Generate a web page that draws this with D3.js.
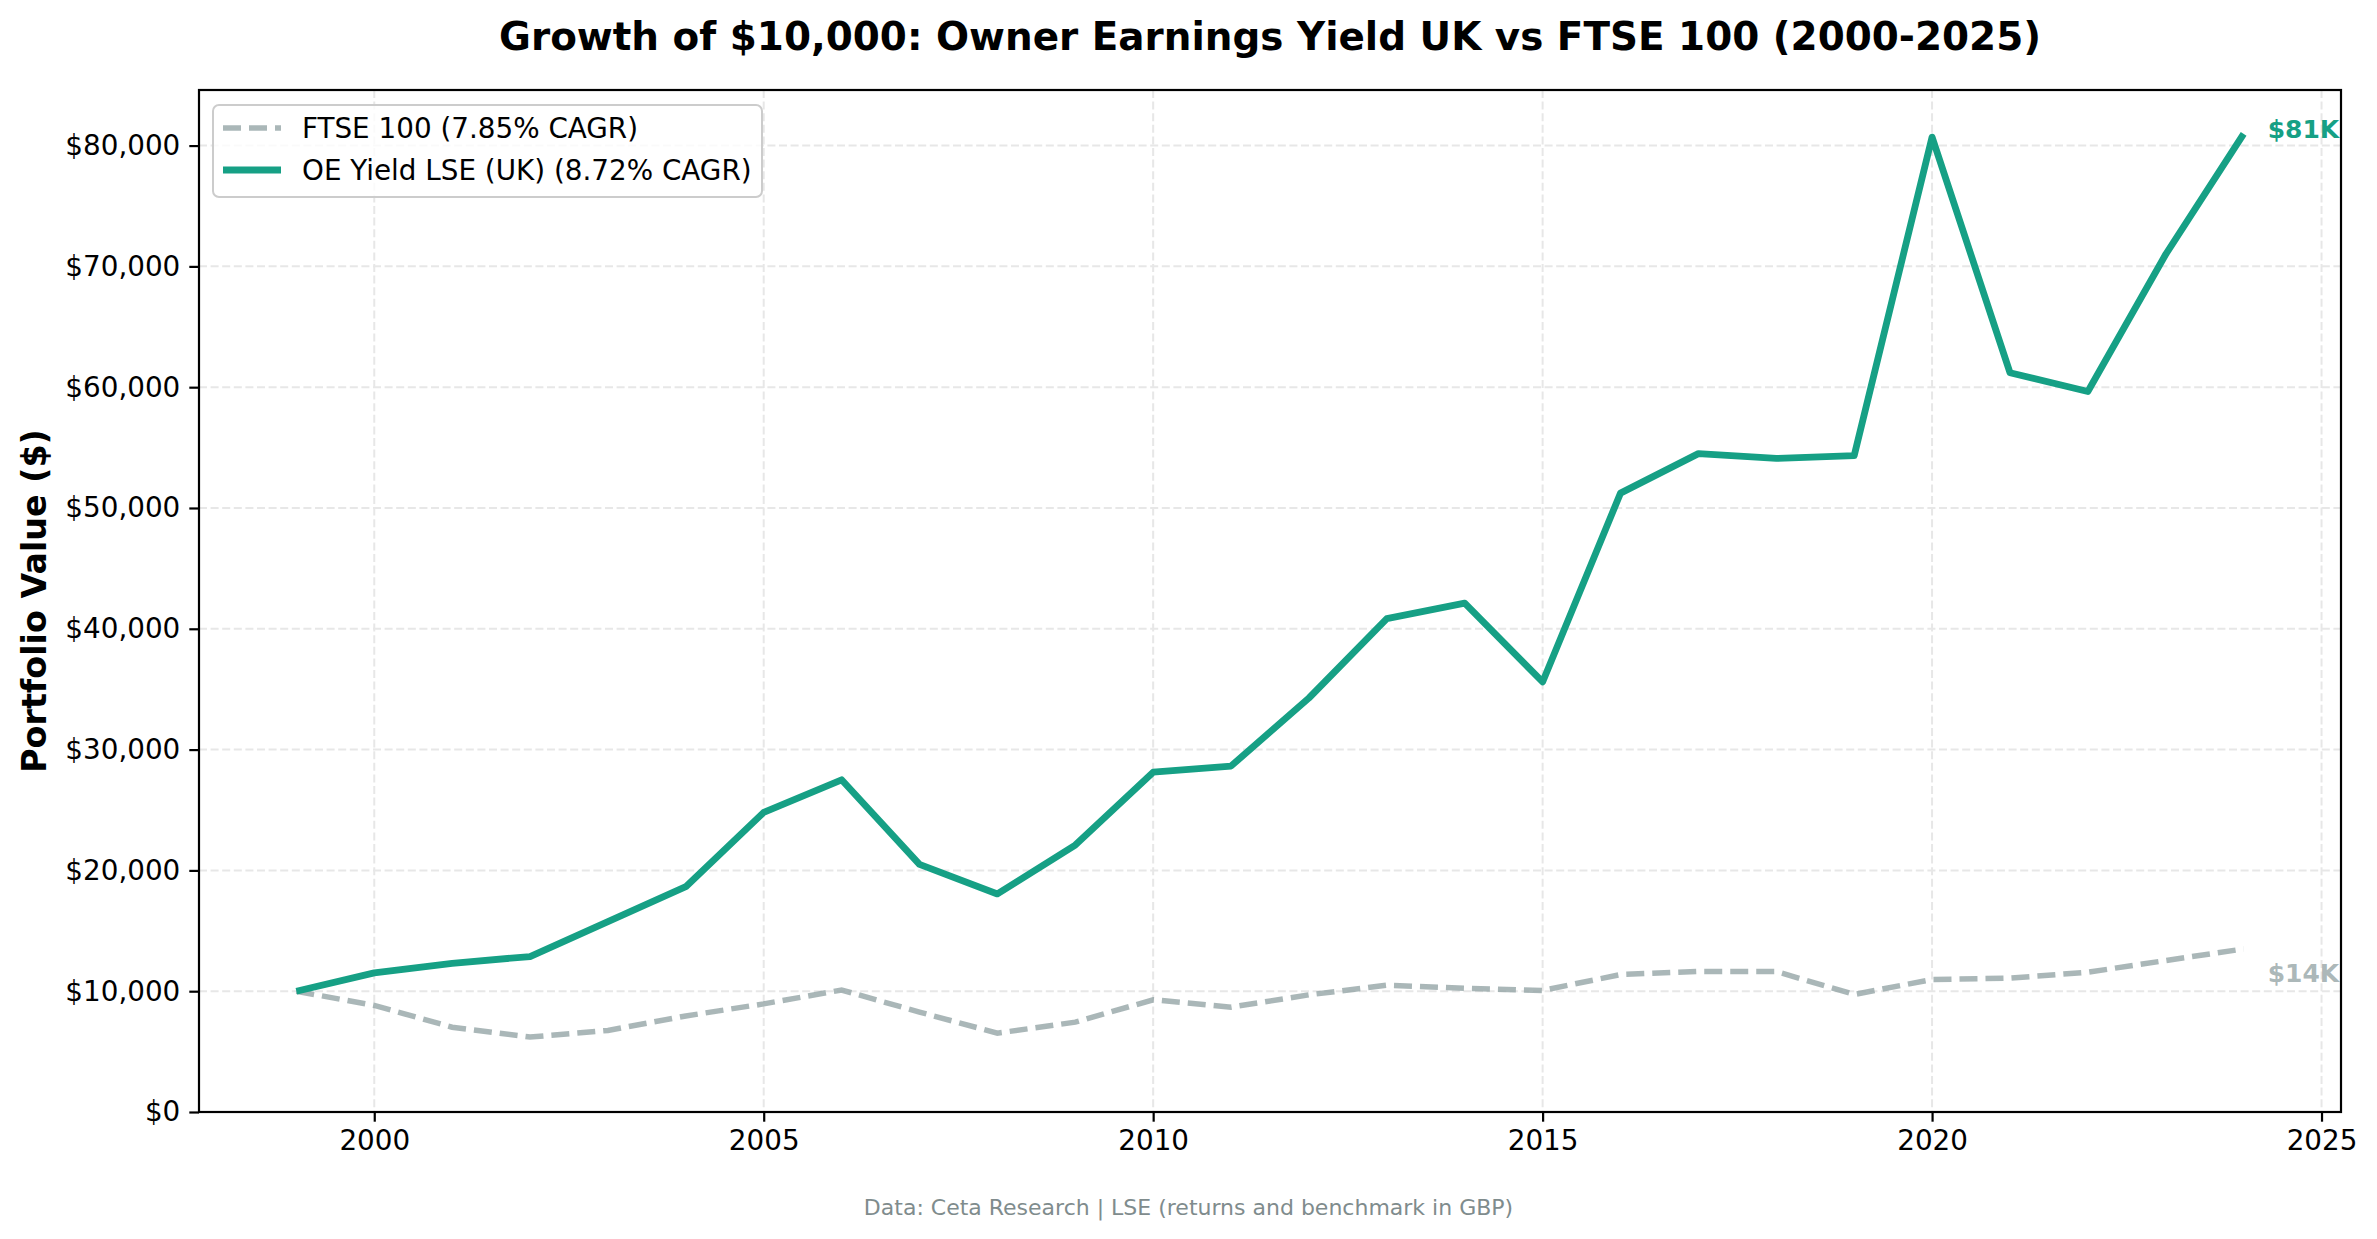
<!DOCTYPE html>
<html>
<head>
<meta charset="utf-8">
<script src="https://cdn.jsdelivr.net/npm/d3@7"></script>
<style>
  html, body { margin: 0; padding: 0; background: #ffffff; }
  svg { display: block; }
  text { font-family: "DejaVu Sans", sans-serif; }
</style>
</head>
<body>
<script>
// ---- data ----
const years = [1999, 2000, 2001, 2002, 2003, 2004, 2005, 2006, 2007, 2008, 2009, 2010, 2011, 2012,
               2013, 2014, 2015, 2016, 2017, 2018, 2019, 2020, 2021, 2022, 2023, 2024];
const oeYield = [10000, 11520, 12310, 12870, 15760, 18650, 24800, 27500, 20500, 18050, 22100, 28130, 28640, 34270,
                 40840, 42120, 35600, 51230, 54500, 54100, 54330, 80700, 61200, 59640, 71000, 80970];
const ftse = [10000, 8820, 7020, 6200, 6750, 7950, 8950, 10100, 8270, 6530, 7440, 9290, 8680, 9700,
              10500, 10250, 10060, 11380, 11630, 11630, 9730, 10970, 11080, 11570, 12540, 13500];
const xTicks = [2000, 2005, 2010, 2015, 2020, 2025];
const yTicks = [0, 10000, 20000, 30000, 40000, 50000, 60000, 70000, 80000];
const seriesNames = ["FTSE 100 (7.85% CAGR)", "OE Yield LSE (UK) (8.72% CAGR)"];
const endLabels = ["$14K", "$81K"];
const titleText = "Growth of $10,000: Owner Earnings Yield UK vs FTSE 100 (2000-2025)";
const yLabelText = "Portfolio Value ($)";
const sourceText = "Data: Ceta Research | LSE (returns and benchmark in GBP)";

// ---- layout ----
const W = 2377, H = 1239;
const L = 199, R = 2341, T = 90, B = 1112;
const teal = "#16a085", gray = "#95a5a6";

const svg = d3.select("body").append("svg").attr("width", W).attr("height", H);
svg.append("rect").attr("width", W).attr("height", H).attr("fill", "#fff");

const x = d3.scaleLinear().domain([1997.75, 2025.25]).range([L, R]);
const y = d3.scaleLinear().domain([0, 84600]).range([B, T]);

// grid
const grid = svg.append("g");
grid.selectAll(".vg").data(xTicks).join("line")
  .attr("x1", d => x(d)).attr("x2", d => x(d)).attr("y1", T).attr("y2", B)
  .attr("stroke", "#e7e7e7").attr("stroke-width", 2).attr("stroke-dasharray", "8,3.6");
grid.selectAll(".hg").data(yTicks).join("line")
  .attr("x1", L).attr("x2", R).attr("y1", d => y(d)).attr("y2", d => y(d))
  .attr("stroke", "#e7e7e7").attr("stroke-width", 2).attr("stroke-dasharray", "8,3.6");

// lines
const line = d3.line().x((d, i) => x(years[i])).y(d => y(d));
svg.append("path").datum(ftse).attr("d", line)
  .attr("fill", "none").attr("stroke", gray).attr("stroke-opacity", 0.8)
  .attr("stroke-width", 5.5).attr("stroke-dasharray", "18,8");
svg.append("path").datum(oeYield).attr("d", line)
  .attr("fill", "none").attr("stroke", teal).attr("stroke-width", 6.8)
  .attr("stroke-linejoin", "round");

// end labels
const lastI = years.length - 1;
svg.append("text").attr("x", x(years[lastI]) + 24).attr("y", y(ftse[lastI]) + 25)
  .attr("dominant-baseline", "central").attr("font-size", 25).attr("font-weight", "bold")
  .attr("fill", gray).attr("fill-opacity", 0.8).text(endLabels[0]);
svg.append("text").attr("x", x(years[lastI]) + 24).attr("y", y(oeYield[lastI]) - 4)
  .attr("dominant-baseline", "central").attr("font-size", 25).attr("font-weight", "bold")
  .attr("fill", teal).text(endLabels[1]);

// axes
const xAxis = svg.append("g").attr("transform", `translate(0,${B})`)
  .call(d3.axisBottom(x).tickValues(xTicks).tickFormat(d3.format("d")).tickSize(9.7).tickPadding(9));
const yAxis = svg.append("g").attr("transform", `translate(${L},0)`)
  .call(d3.axisLeft(y).tickValues(yTicks).tickFormat(d => "$" + d3.format(",")(d)).tickSize(9.7).tickPadding(9));
[xAxis, yAxis].forEach(g => {
  g.select(".domain").remove();
  g.selectAll(".tick line").attr("stroke", "#000").attr("stroke-width", 2.2);
  g.selectAll(".tick text").attr("font-family", "DejaVu Sans").attr("font-size", 27.8).attr("fill", "#000");
});

// frame
svg.append("rect").attr("x", L).attr("y", T).attr("width", R - L).attr("height", B - T)
  .attr("fill", "none").attr("stroke", "#000").attr("stroke-width", 2.2);

// legend
const lg = svg.append("g");
lg.append("rect").attr("x", 213).attr("y", 105).attr("width", 549).attr("height", 92).attr("rx", 6)
  .attr("fill", "#fff").attr("fill-opacity", 0.8).attr("stroke", "#cccccc").attr("stroke-width", 2);
const legRows = [
  {name: seriesNames[0], color: gray, op: 0.8, w: 5.5, dash: "18,8", cy: 128},
  {name: seriesNames[1], color: teal, op: 1, w: 6.8, dash: null, cy: 170}
];
legRows.forEach(r => {
  lg.append("line").attr("x1", 223).attr("x2", 281).attr("y1", r.cy).attr("y2", r.cy)
    .attr("stroke", r.color).attr("stroke-opacity", r.op).attr("stroke-width", r.w)
    .attr("stroke-dasharray", r.dash);
  lg.append("text").attr("x", 302).attr("y", r.cy).attr("dominant-baseline", "central")
    .attr("font-size", 27.8).attr("fill", "#000").text(r.name);
});

// title, labels, source
svg.append("text").attr("x", (L + R) / 2).attr("y", 50).attr("text-anchor", "middle")
  .attr("font-size", 38.9).attr("font-weight", "bold").attr("fill", "#000").text(titleText);
svg.append("text").attr("transform", `translate(46,${(T + B) / 2}) rotate(-90)`)
  .attr("text-anchor", "middle").attr("font-size", 33.3).attr("font-weight", "bold")
  .attr("fill", "#000").text(yLabelText);
svg.append("text").attr("x", W / 2).attr("y", 1215).attr("text-anchor", "middle")
  .attr("font-size", 22).attr("fill", "#7f8c8d").text(sourceText);
</script>
</body>
</html>
